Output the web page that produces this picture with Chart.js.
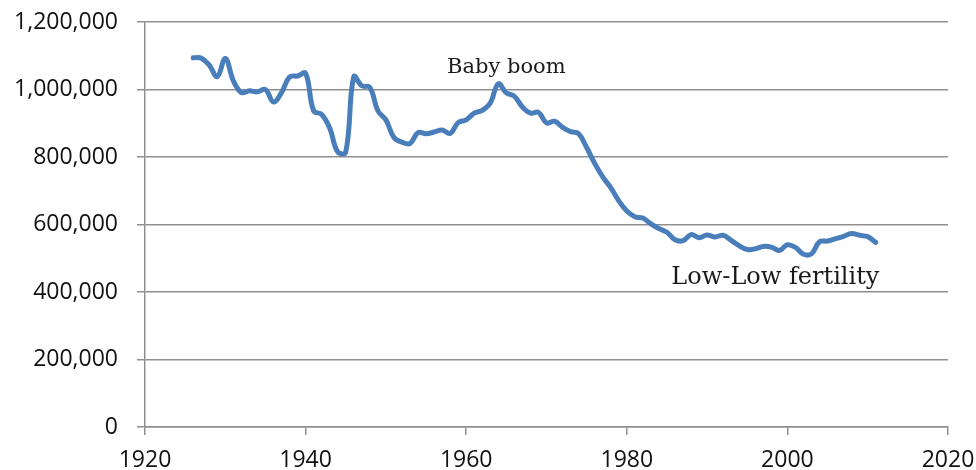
<!DOCTYPE html>
<html>
<head>
<meta charset="utf-8">
<script src="https://cdn.jsdelivr.net/npm/chart.js@4.4.1/dist/chart.umd.min.js"></script>
<style>
  html, body { margin: 0; padding: 0; background: #fff; }
  #wrap { width: 976px; height: 470px; position: relative; }
</style>
</head>
<body>
<div id="wrap"><canvas id="c" width="976" height="470"></canvas></div>
<script>
const years = [
  1926,1927,1928,1929,1930,1931,1932,1933,1934,1935,
  1936,1937,1938,1939,1940,1941,1942,1943,1944,1945,
  1946,1947,1948,1949,1950,1951,1952,1953,1954,1955,
  1956,1957,1958,1959,1960,1961,1962,1963,1964,1965,
  1966,1967,1968,1969,1970,1971,1972,1973,1974,1975,
  1976,1977,1978,1979,1980,1981,1982,1983,1984,1985,
  1986,1987,1988,1989,1990,1991,1992,1993,1994,1995,
  1996,1997,1998,1999,2000,2001,2002,2003,2004,2005,
  2006,2007,2008,2009,2010,2011
];
const births = [
  1094000,1093000,1072000,1038000,1092000,1026000,991000,996000,993000,1000000,
  963000,991000,1037000,1040000,1048000,937000,926000,886000,815000,815000,
  1038000,1011000,1006000,937000,910000,858000,844000,840000,872000,869000,
  874000,880000,870000,902000,910000,930000,938000,960000,1017000,990000,
  980000,948000,930000,932000,901000,906000,888000,875000,869000,828000,
  781000,741000,709000,670000,640000,623000,619000,602000,588000,577000,
  555000,552000,570000,561000,569000,563000,568000,553000,537000,526000,
  528000,535000,533000,523000,540000,532000,512000,513000,549000,551000,
  558000,565000,573000,568000,564000,547000
];
const xTicks = [1920, 1940, 1960, 1980, 2000, 2020];
const yTicks = [0, 200000, 400000, 600000, 800000, 1000000, 1200000];
const notes = [
  { text: "Baby boom", year: 1965, value: 1049000, size: 21 },
  { text: "Low-Low fertility", year: 1998.5, value: 424000, size: 24 }
];

const GRID = '#8f8f8f';

const notePlugin = {
  id: 'notes',
  afterDatasetsDraw(chart) {
    const ctx = chart.ctx;
    const xs = chart.scales.x, ys = chart.scales.y;
    ctx.save();
    ctx.fillStyle = '#1a1a1a';
    ctx.textAlign = 'center';
    ctx.textBaseline = 'alphabetic';
    notes.forEach(n => {
      ctx.font = n.size + 'px "DejaVu Serif", serif';
      ctx.fillText(n.text, xs.getPixelForValue(n.year), ys.getPixelForValue(n.value));
    });
    ctx.restore();
  }
};

new Chart(document.getElementById('c'), {
  type: 'line',
  data: {
    datasets: [{
      data: years.map((y, i) => ({ x: y, y: births[i] })),
      borderColor: '#4a7ebb',
      borderWidth: 5,
      pointRadius: 0,
      tension: 0.4,
      fill: false,
      borderCapStyle: 'round',
      borderJoinStyle: 'round'
    }]
  },
  options: {
    responsive: false,
    animation: false,
    devicePixelRatio: 1,
    layout: { padding: { top: 22, right: 28, left: 0, bottom: 0 } },
    plugins: { legend: { display: false }, tooltip: { enabled: false } },
    scales: {
      x: {
        type: 'linear',
        min: 1920, max: 2020,
        afterBuildTicks: s => { s.ticks = xTicks.map(v => ({ value: v })); },
        afterFit: s => { s.height = 43; s.paddingLeft = 0; s.paddingRight = 0; },
        ticks: {
          color: '#111',
          font: { family: '"Open Sans", sans-serif', size: 23 },
          padding: 12,
          maxRotation: 0,
          callback: v => String(v)
        },
        grid: { drawOnChartArea: false, drawTicks: true, tickLength: 8, color: GRID, lineWidth: 1.5 },
        border: { display: true, color: GRID, width: 1.5 }
      },
      y: {
        min: 0, max: 1200000,
        afterBuildTicks: s => { s.ticks = yTicks.map(v => ({ value: v })); },
        afterFit: s => { s.width = 145; s.paddingTop = 0; s.paddingBottom = 0; },
        ticks: {
          color: '#111',
          font: { family: '"Open Sans", sans-serif', size: 23 },
          padding: 19,
          callback: v => v.toLocaleString('en-US')
        },
        grid: { drawOnChartArea: true, drawTicks: true, tickLength: 8, color: GRID, lineWidth: 1.5 },
        border: { display: true, color: GRID, width: 1.5 }
      }
    }
  },
  plugins: [notePlugin]
});
</script>
</body>
</html>
